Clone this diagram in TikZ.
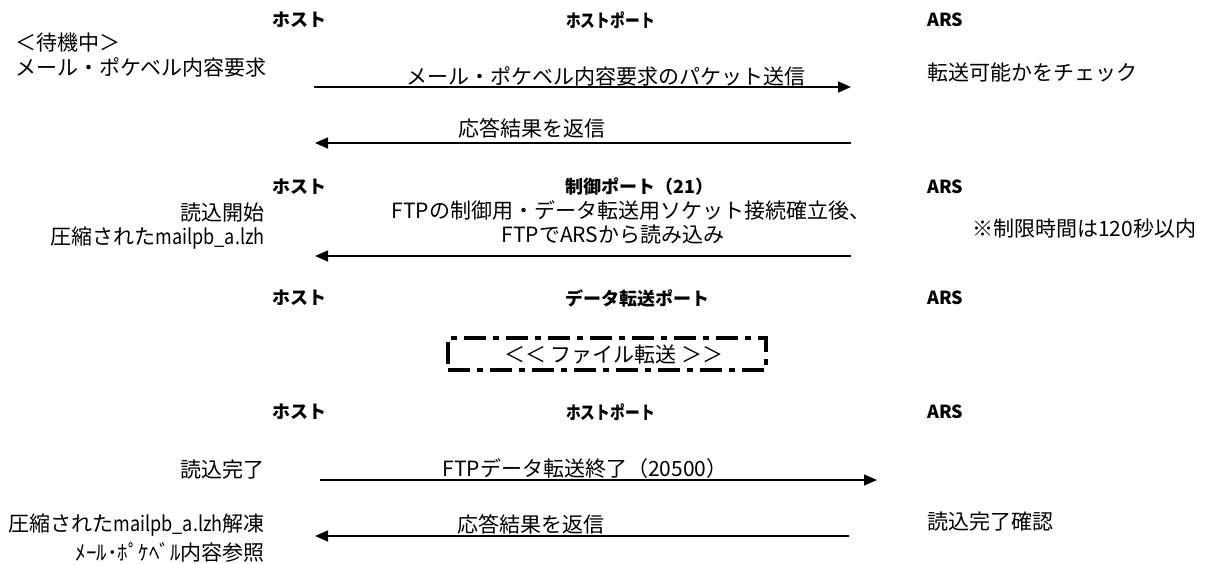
\documentclass[tikz,border=0pt]{standalone}
\usepackage{graphicx}
\usepackage{fontspec}
\setmainfont{Noto Sans CJK JP}
\usetikzlibrary{arrows.meta}
\newcommand{\nlat}[1]{\scalebox{0.86}[1]{#1}}
\begin{document}
\begin{tikzpicture}[x=1pt,y=-1pt,
  txt/.style={inner sep=0pt,font=\fontsize{21}{25}\selectfont},
  hdr/.style={inner sep=0pt,font=\fontsize{18}{22}\selectfont\bfseries},
  msg/.style={line width=1.6pt,-{Triangle[length=13pt,width=11pt]}},
  framebox/.style={draw,line width=3.5pt,dash pattern=on 22pt off 7pt on 6pt off 7pt,minimum width=318pt,minimum height=32pt,inner sep=0pt}]
\useasboundingbox (0,0) rectangle (1221,563);
% header row 1
\node[hdr] (h1a) at (299,20) {ホスト};
\node[hdr,anchor=west] (h1b) at (566,20) {\scalebox{0.82}[1]{ホストポート}};
\node[hdr,anchor=west] (h1c) at (927,20) {ARS};
\node[txt,anchor=west] (wait) at (15,43) {＜待機中＞};
\node[txt,anchor=west] (req) at (15,67) {メール・ポケベル内容要求};
\node[txt] (l1) at (606,76) {メール・ポケベル内容要求のパケット送信};
\node[txt,anchor=west] (chk) at (927,73) {転送可能かをチェック};
\coordinate (a1s) at (314,87); \coordinate (a1e) at (851,87);
\draw[msg] (a1s) -- (a1e);
\node[txt] (l2) at (532,128) {応答結果を返信};
\coordinate (a2s) at (851,143); \coordinate (a2e) at (315,143);
\draw[msg] (a2s) -- (a2e);
% header row 2
\node[hdr] (h2a) at (299,187) {ホスト};
\node[hdr,anchor=west] (h2b) at (565,187) {制御ポート（21）};
\node[hdr,anchor=west] (h2c) at (927,187) {ARS};
\node[txt,anchor=east] (rs) at (265,213) {読込開始};
\node[txt,anchor=east] (lzh) at (265,238) {圧縮された\nlat{mailpb\_a.lzh}};
\node[txt] (l3a) at (631,210) {FTPの制御用・データ転送用ソケット接続確立後、};
\node[txt] (l3b) at (613,235) {FTPでARSから読み込み};
\node[txt,anchor=west] (lim) at (972,229) {※制限時間は120秒以内};
\coordinate (a3s) at (851,256); \coordinate (a3e) at (315,256);
\draw[msg] (a3s) -- (a3e);
% header row 3
\node[hdr] (h3a) at (299,298) {ホスト};
\node[hdr,anchor=west] (h3b) at (565,298) {データ転送ポート};
\node[hdr,anchor=west] (h3c) at (927,298) {ARS};
\node[framebox] (fbox) at (607,354) {};
\node[txt] (ft) at (614,355) {＜＜ ファイル転送 ＞＞};
% header row 4
\node[hdr] (h4a) at (299,412) {ホスト};
\node[hdr,anchor=west] (h4b) at (566,412) {\scalebox{0.82}[1]{ホストポート}};
\node[hdr,anchor=west] (h4c) at (927,412) {ARS};
\node[txt,anchor=east] (done) at (265,470) {読込完了};
\node[txt] (l4) at (585,469) {FTPデータ転送終了（20500）};
\coordinate (a4s) at (320,480); \coordinate (a4e) at (877,480);
\draw[msg] (a4s) -- (a4e);
\node[txt,anchor=east] (thaw) at (265,525) {圧縮された\nlat{mailpb\_a.lzh}解凍};
\node[txt] (l5) at (531,524) {応答結果を返信};
\node[txt,anchor=west] (conf) at (927,522) {読込完了確認};
\coordinate (a5s) at (849,536); \coordinate (a5e) at (315,536);
\draw[msg] (a5s) -- (a5e);
\node[txt,anchor=east] (ref) at (265,552) {ﾒｰﾙ･ﾎﾟｹﾍﾞﾙ内容参照};
\end{tikzpicture}
\end{document}
